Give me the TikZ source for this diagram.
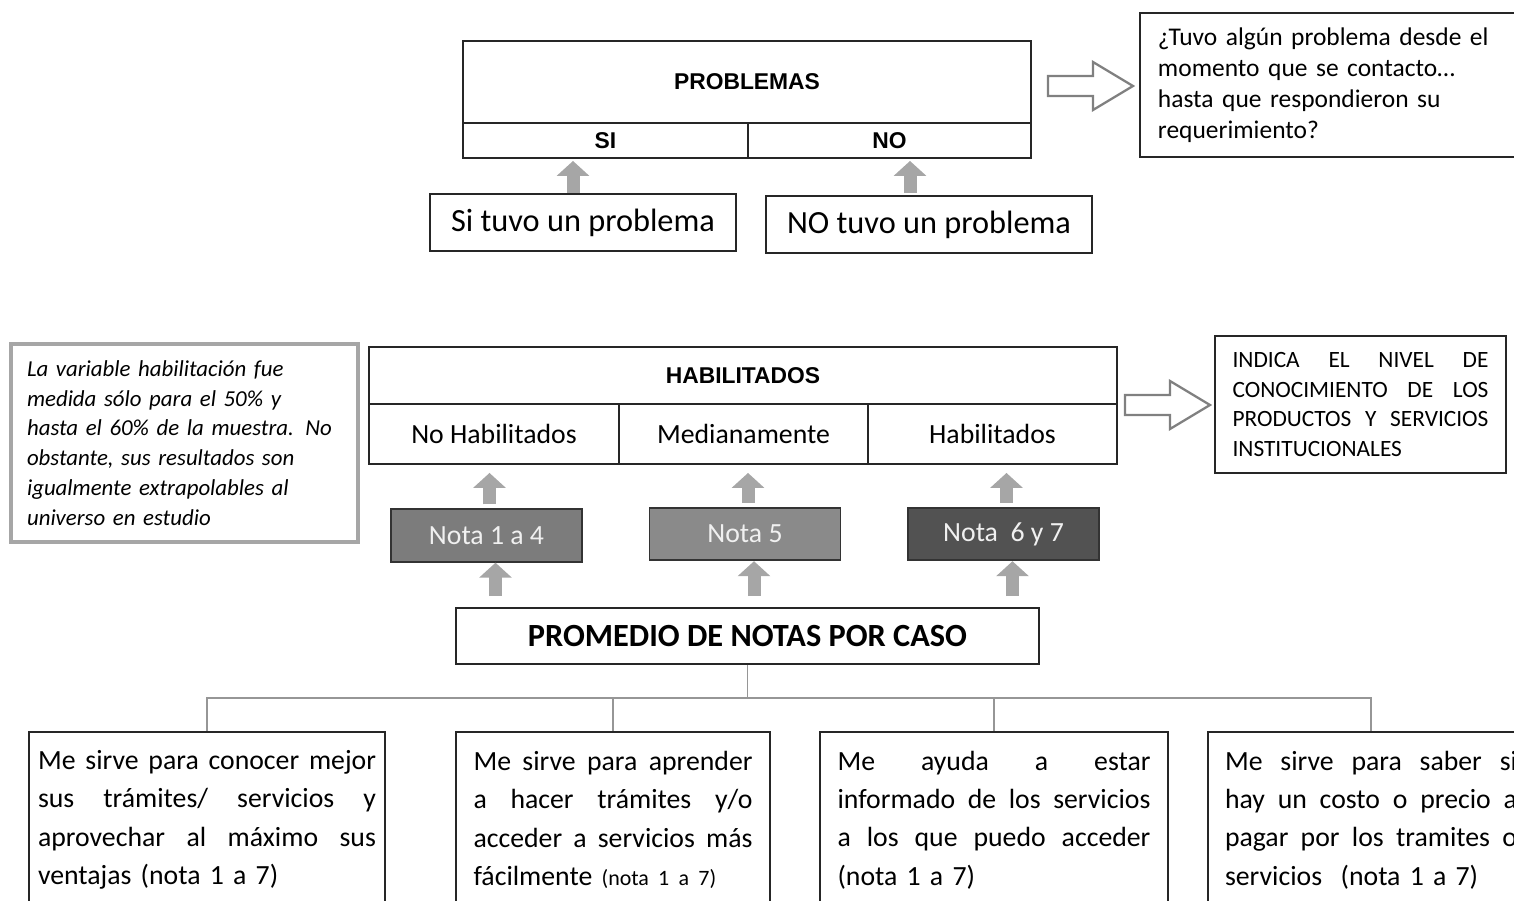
\documentclass[tikz,border=0pt]{standalone}
\usepackage{fontspec}
\setmainfont{Carlito}
\newfontfamily\hdfont{Liberation Sans}
\usetikzlibrary{arrows.meta,calc}
\setlength{\parindent}{0pt}
\definecolor{arrgray}{RGB}{166,166,166}
\definecolor{linegray}{RGB}{150,150,150}
\definecolor{nota1}{RGB}{124,124,124}
\definecolor{nota2}{RGB}{138,138,138}
\definecolor{nota3}{RGB}{82,82,82}
\newlength{\jw}
% justified line: words spread over \jw
\makeatletter
\def\jline#1{\leavevmode\hbox to\jw{\jl@word#1 \@nil}}
\def\jl@word#1 #2\@nil{#1\ifx\relax#2\relax\else\hfill\jl@word#2\@nil\fi}
\makeatother

\begin{document}
\begin{tikzpicture}[x=0.02cm,y=-0.02cm,
    box/.style={draw=black!85,line width=1.1pt,fill=white,inner sep=0pt},
    hdr/.style={box,font=\hdfont\bfseries\fontsize{13}{15}\selectfont},
    cell/.style={box,font=\fontsize{15.8}{18}\selectfont},
    txt/.style={box,align=left,font=\fontsize{15.8}{21.8}\selectfont},
    jbox/.style={txt,text width=#1,execute at begin node={\setlength{\jw}{#1}}},
    nota/.style={draw=black!80,line width=1.1pt,text=white!94!black,inner sep=0pt,
      font=\fontsize{15.8}{18}\selectfont,minimum width=3.82cm,minimum height=1.05cm},
    uparr/.style={draw=arrgray,line width=0.26cm,-{Triangle[width=0.64cm,length=0.3cm]}},
    hollow/.style={draw=black!50,line width=1.3pt,fill=white,line join=miter},
    tree/.style={draw=linegray,line width=1.1pt}]
  \useasboundingbox (0,0) rectangle (1514,901);
  \clip (0,0) rectangle (1514,901);

  % problemas
  \node[hdr,minimum width=11.36cm,minimum height=1.64cm] (prob) at (747,82) {PROBLEMAS};
  \node[hdr,minimum width=5.7cm,minimum height=0.7cm] (si) at (605.5,140.5) {SI};
  \node[hdr,minimum width=5.66cm,minimum height=0.7cm] (no) at (889.5,140.5) {NO};
  \node[box,font=\fontsize{18.4}{22}\selectfont,minimum width=6.12cm,minimum height=1.14cm]
    (siprob) at (583,222.5) {Si tuvo un problema};
  \node[box,font=\fontsize{18.4}{22}\selectfont,minimum width=6.52cm,minimum height=1.14cm]
    (noprob) at (929,224.5) {NO tuvo un problema};
  \draw[uparr,shorten >=0.04cm] ($(siprob.north)+(-10,0)$) -- ($(siprob.north |- si.south)+(-10,0)$);
  \draw[uparr,shorten <=0.04cm,shorten >=0.04cm] ($(noprob.north)+(-19,0)$) -- ($(noprob.north |- no.south)+(-19,0)$);

  \node[txt,anchor=west,font=\fontsize{14.5}{17.6}\selectfont,text width=7cm,inner xsep=0.36cm,
    minimum height=2.88cm] (qbox) at (1139,85)
    {¿Tuvo algún problema desde el\\momento que se contacto…\\hasta que respondieron su\\requerimiento?};
  \coordinate (a1) at (1048,86);
  \draw[hollow] (a1) ++(0,-10) -- ++(45,0) -- ++(0,-14) -- ++(40,24) -- ++(-40,24)
    -- ++(0,-14) -- ++(-45,0) -- cycle;

  % habilitados
  \node[box,draw=black!35,line width=2pt,text width=6.3cm,align=left,inner xsep=0.32cm,
    minimum height=3.96cm,font=\itshape\fontsize{13}{17}\selectfont] (note) at (184.5,443)
    {La variable habilitación fue\\medida sólo para el 50\% y\\hasta el 60\% de la muestra. No\\
     obstante, sus resultados son\\igualmente extrapolables al\\universo en estudio};
  \node[hdr,minimum width=14.96cm,minimum height=1.14cm] (hab) at (743,375.5) {HABILITADOS};
  \node[cell,minimum width=5cm,minimum height=1.2cm] (c1) at (494,434) {No Habilitados};
  \node[cell,minimum width=4.98cm,minimum height=1.2cm] (c2) at (743.5,434) {Medianamente};
  \node[cell,minimum width=4.98cm,minimum height=1.2cm] (c3) at (992.5,434) {Habilitados};
  \coordinate (a2) at (1125,405);
  \draw[hollow] (a2) ++(0,-10) -- ++(45,0) -- ++(0,-14) -- ++(40,24) -- ++(-40,24)
    -- ++(0,-14) -- ++(-45,0) -- cycle;
  \node[jbox=5.12cm,font=\fontsize{13.3}{17}\selectfont,inner xsep=0.35cm,
    minimum height=2.74cm] (ind) at (1360.5,404.5)
    {\jline{INDICA EL NIVEL DE}\\\jline{CONOCIMIENTO DE LOS}\\\jline{PRODUCTOS Y SERVICIOS}\\INSTITUCIONALES};

  \node[nota,fill=nota1] (n1) at (486.5,535.5) {Nota 1 a 4};
  \node[nota,fill=nota2] (n2) at (745,534) {Nota 5};
  \node[nota,fill=nota3] (n3) at (1003.5,534) {Nota~ 6 y 7};

  \node[box,font=\bfseries\fontsize{18.4}{22}\selectfont,minimum width=11.66cm,minimum height=1.12cm]
    (prom) at (747.5,636) {PROMEDIO DE NOTAS POR CASO};

  \foreach \n/\c in {n1/c1,n2/c2,n3/c3} {
    \draw[uparr,shorten <=0.08cm,shorten >=0.16cm] ($(\n.north)+(3,0)$) -- ($(\n.north |- \c.south)+(3,0)$);
    \draw[uparr,shorten <=0.22cm] ($(\n.south |- prom.north)+(9,0)$) -- ($(\n.south)+(9,0)$);
  }

  % preguntas
  \node[jbox=6.76cm,anchor=north,inner xsep=0.18cm,minimum height=3.52cm] (b1) at (207,731)
    {\jline{Me sirve para conocer mejor}\\\jline{sus trámites/ servicios y}\\
     \jline{aprovechar al máximo sus}\\ventajas (nota 1 a 7)};
  \node[jbox=5.58cm,anchor=north,inner xsep=0.35cm,minimum height=3.52cm] (b2) at (613,731)
    {\jline{Me sirve para aprender}\\\jline{a hacer trámites y/o}\\
     \jline{acceder a servicios más}\\fácilmente {\fontsize{12.5}{21.8}\selectfont(nota 1 a 7)}};
  \node[jbox=6.26cm,anchor=north,inner xsep=0.35cm,minimum height=3.52cm] (b3) at (994,731)
    {\jline{Me ayuda a estar}\\\jline{informado de los servicios}\\
     \jline{a los que puedo acceder}\\(nota 1 a 7)};
  \node[jbox=5.84cm,anchor=north,inner xsep=0.35cm,minimum height=3.52cm] (b4) at (1371,731)
    {\jline{Me sirve para saber si}\\\jline{hay un costo o precio a}\\
     \jline{pagar por los tramites o}\\servicios~ (nota 1 a 7)};

  \coordinate (jn) at (747.5,698);
  \draw[tree] (prom.south) -- (jn);
  \foreach \b in {b1,b2,b3,b4}
    \draw[tree] (jn) -| (\b.north);
\end{tikzpicture}
\end{document}
